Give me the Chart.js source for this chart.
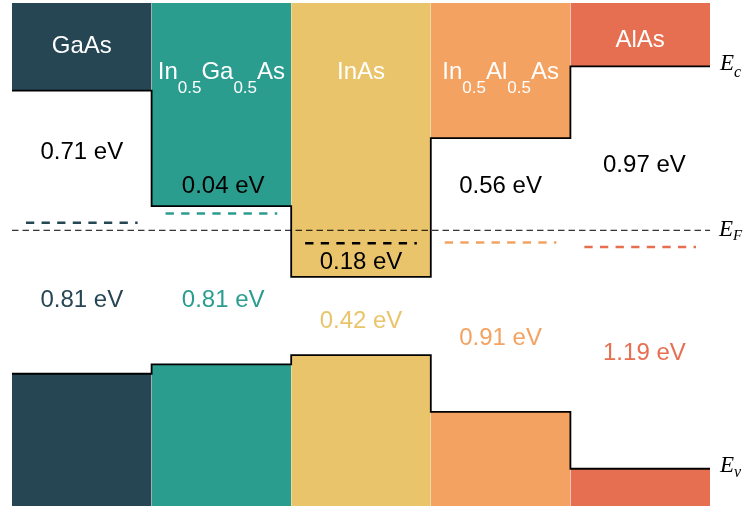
<!DOCTYPE html>
<html>
<head>
<meta charset="utf-8">
<script src="https://cdn.jsdelivr.net/npm/chart.js@4/dist/chart.umd.min.js"></script>
<style>
  html, body { margin: 0; padding: 0; background: #ffffff; }
  #wrap { width: 748px; height: 508px; }
</style>
</head>
<body>
<div id="wrap"><canvas id="bands" width="748" height="508"></canvas></div>
<script>
// Heterostructure layers, left to right (sub-scripts written as _{...})
const layers = ['GaAs', 'In_{0.5}Ga_{0.5}As', 'InAs', 'In_{0.5}Al_{0.5}As', 'AlAs'];
const layerColors = ['#264653', '#2a9d8f', '#e9c46a', '#f4a261', '#e76f51'];

// Fermi level of each isolated layer, relative to the common E_F (eV)
const layerFermiEv = [0.04, 0.09, -0.07, -0.065, -0.09];
// Distance between the layer Fermi level and E_c (eV)
const conductionGapEv = [0.71, 0.04, 0.18, 0.56, 0.97];
// Distance from the layer Fermi level down to E_v (eV); for a degenerate layer, E_c − E_v
const valenceGapEv = [0.81, 0.81, 0.42, 0.91, 1.19];
// Layers whose Fermi level sits above the conduction band edge
const degenerate = [false, false, true, false, false];

// Vertical range of the diagram (eV)
const energyTop = 1.22;
const energyBottom = -1.48;

// Label placement (x in layer units, y in eV)
const labelX = [0.5, 1.513, 2.5, 3.5, 4.53];
const nameY = [1.0, 0.86, 0.86, 0.86, 1.03];
const upperLabelY = [0.428, 0.248, -0.164, 0.248, 0.357];
const lowerLabelY = [-0.364, -0.364, -0.478, -0.570, -0.651];
const upperLabelColors = ['#000000', '#000000', '#000000', '#000000', '#000000'];

// Band edges derived from the values above
const ec = layers.map((_, i) => degenerate[i]
  ? layerFermiEv[i] - conductionGapEv[i]
  : layerFermiEv[i] + conductionGapEv[i]);
const ev = layers.map((_, i) => degenerate[i]
  ? ec[i] - valenceGapEv[i]
  : layerFermiEv[i] - valenceGapEv[i]);

const datasets = [];

// Filled conduction-band blocks (edge up to the top) and valence-band blocks (edge down to the bottom)
layers.forEach((_, i) => {
  datasets.push({
    data: [{x: i, y: ec[i]}, {x: i + 1, y: ec[i]}],
    fill: 'end', backgroundColor: layerColors[i], borderWidth: 0, order: 5
  });
  datasets.push({
    data: [{x: i, y: ev[i]}, {x: i + 1, y: ev[i]}],
    fill: 'start', backgroundColor: layerColors[i], borderWidth: 0, order: 5
  });
});

// Band-edge outlines as step lines
const stepPoints = arr => arr.map((v, i) => ({x: i, y: v})).concat([{x: arr.length, y: arr[arr.length - 1]}]);
datasets.push({ data: stepPoints(ec), stepped: 'before', borderColor: '#000000', borderWidth: 1.8, fill: false, order: 3 });
datasets.push({ data: stepPoints(ev), stepped: 'before', borderColor: '#000000', borderWidth: 1.8, fill: false, order: 3 });

// Common Fermi level
datasets.push({
  data: [{x: 0, y: 0}, {x: layers.length, y: 0}],
  borderColor: '#000000', borderWidth: 1, borderDash: [6.5, 4], fill: false, order: 2
});

// Per-layer Fermi levels
layers.forEach((_, i) => {
  datasets.push({
    data: [{x: i + 0.1, y: layerFermiEv[i]}, {x: i + 0.9, y: layerFermiEv[i]}],
    borderColor: degenerate[i] ? '#000000' : layerColors[i],
    borderWidth: 2.5, borderDash: [8.3, 7.3], borderCapStyle: 'butt', fill: false, order: 1
  });
});

const sansFont = '"Liberation Sans", Arial, sans-serif';
const serifFont = '"Liberation Serif", "DejaVu Serif", serif';

// Draw text made of normal and _{sub} parts; anchor is the centre or the left edge
function drawSubscripted(ctx, text, ax, baseline, size, subSize, subDrop, family, style, align) {
  const parts = [];
  const re = /_\{([^}]*)\}/g;
  let last = 0, m;
  while ((m = re.exec(text)) !== null) {
    if (m.index > last) parts.push({t: text.slice(last, m.index), sub: false});
    parts.push({t: m[1], sub: true});
    last = re.lastIndex;
  }
  if (last < text.length) parts.push({t: text.slice(last), sub: false});
  const fontFor = p => `${style ? style + ' ' : ''}${p.sub ? subSize : size}px ${family}`;
  let total = 0;
  parts.forEach(p => { ctx.font = fontFor(p); p.w = ctx.measureText(p.t).width; total += p.w; });
  let xPos = align === 'left' ? ax : ax - total / 2;
  ctx.textAlign = 'left';
  ctx.textBaseline = 'alphabetic';
  parts.forEach(p => {
    ctx.font = fontFor(p);
    ctx.fillText(p.t, xPos, baseline + (p.sub ? subDrop : 0));
    xPos += p.w;
  });
}

const bandText = {
  id: 'bandText',
  afterDatasetsDraw(chart) {
    const {ctx, scales: {x, y}, chartArea} = chart;
    const size = 24, capHalf = 0.358 * size;
    ctx.save();
    layers.forEach((name, i) => {
      const cx = x.getPixelForValue(labelX[i]);
      const nameCx = x.getPixelForValue(i + 0.5);
      // layer name
      ctx.fillStyle = '#ffffff';
      drawSubscripted(ctx, name, nameCx, y.getPixelForValue(nameY[i]) + capHalf, size, 17, 14, sansFont, '', 'center');
      // E_c side value
      ctx.fillStyle = upperLabelColors[i];
      ctx.textAlign = 'center';
      ctx.textBaseline = 'alphabetic';
      ctx.font = `${size}px ${sansFont}`;
      ctx.fillText(conductionGapEv[i].toFixed(2) + ' eV', cx, y.getPixelForValue(upperLabelY[i]) + capHalf);
      // E_v side value
      ctx.fillStyle = layerColors[i];
      ctx.fillText(valenceGapEv[i].toFixed(2) + ' eV', cx, y.getPixelForValue(lowerLabelY[i]) + capHalf);
    });
    // Level names on the right
    const last = layers.length - 1;
    const rx = chartArea.right + 10;
    ctx.fillStyle = '#000000';
    drawSubscripted(ctx, 'E_{c}', rx, y.getPixelForValue(ec[last]) + 4, 23, 16, 7, serifFont, 'italic', 'left');
    drawSubscripted(ctx, 'E_{F}', rx - 1, y.getPixelForValue(0) + 6, 23, 15, 4, serifFont, 'italic', 'left');
    drawSubscripted(ctx, 'E_{v}', rx, y.getPixelForValue(ev[last]) + 3, 23, 16, 5, serifFont, 'italic', 'left');
    ctx.restore();
  }
};

new Chart(document.getElementById('bands'), {
  type: 'line',
  data: { datasets },
  options: {
    responsive: false,
    animation: false,
    devicePixelRatio: 1,
    layout: { padding: { left: 12, right: 38, top: 3, bottom: 2 } },
    elements: { point: { radius: 0, hoverRadius: 0 }, line: { tension: 0 } },
    plugins: { legend: { display: false }, tooltip: { enabled: false } },
    events: [],
    scales: {
      x: { type: 'linear', min: 0, max: layers.length, display: false },
      y: { type: 'linear', min: energyBottom, max: energyTop, display: false }
    }
  },
  plugins: [bandText]
});
</script>
</body>
</html>
